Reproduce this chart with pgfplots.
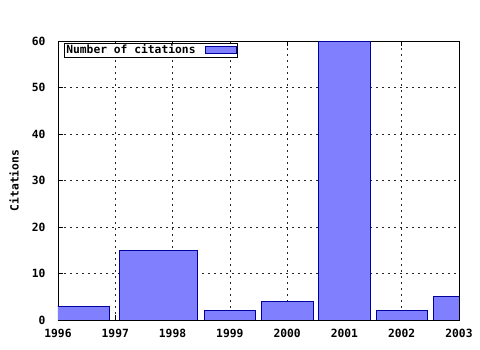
\documentclass[border=0pt]{standalone}
\usepackage{fontspec}
\setmainfont{DejaVu Sans Mono}
\usepackage{pgfplots}
\pgfplotsset{compat=1.18}
\definecolor{barfill}{HTML}{8080FF}
\definecolor{baredge}{HTML}{0000A0}
\newcommand{\gfont}{\fontsize{11.3}{13}\selectfont\bfseries}
\begin{document}
\begin{tikzpicture}[x=1pt,y=1pt]
\useasboundingbox (-58,-30) rectangle (422,320);
\begin{axis}[
  at={(0,0)}, anchor=south west,
  scale only axis, width=401pt, height=279pt,
  xmin=1996, xmax=2003, ymin=0, ymax=60,
  xtick={1996,1997,...,2003}, ytick={0,10,...,60},
  minor x tick num=3,
  xtick pos=both, ytick pos=left, tick align=inside,
  major tick length=5pt, minor tick length=3pt,
  grid=major,
  major grid style={black!85, line width=0.6pt, dash pattern=on 2pt off 4pt},
  axis line style={black, line width=0.8pt},
  every tick/.style={black, line width=0.6pt},
  ticklabel style={font=\gfont},
  xticklabel style={yshift=-6pt},
  yticklabel style={xshift=-9pt},
  /pgf/number format/assume math mode=true,
  /pgf/number format/1000 sep={},
  ylabel={Citations},
  ylabel style={font=\gfont, at={(axis description cs:-0.1097,0.5)}, anchor=center},
  legend plot pos=right,
  legend cell align=left,
  legend style={at={(axis description cs:0.015,0.993)}, anchor=north west,
    draw=black, line width=0.6pt, inner xsep=1pt, inner ysep=0.5pt, font=\gfont,
    row sep=0pt, nodes={inner sep=1pt},
    /tikz/every odd column/.append style={column sep=8pt},
    /tikz/every even column/.append style={column sep=3pt}},
]
\addplot[fill=barfill, draw=baredge, line width=0.8pt,
  legend image code/.code={\draw[fill=barfill, draw=baredge, line width=0.8pt] (0pt,-3.5pt) rectangle (31pt,3.5pt);}]
  coordinates {(1995.1,3) (1996.9,3)} \closedcycle;
\addlegendentry{Number of citations}
\addplot[forget plot, fill=barfill, draw=baredge, line width=0.8pt]
  coordinates {(1997.075,15) (1998.425,15)} \closedcycle;
\addplot[forget plot, fill=barfill, draw=baredge, line width=0.8pt]
  coordinates {(1998.55,2) (1999.45,2)} \closedcycle;
\addplot[forget plot, fill=barfill, draw=baredge, line width=0.8pt]
  coordinates {(1999.55,4) (2000.45,4)} \closedcycle;
\addplot[forget plot, fill=barfill, draw=baredge, line width=0.8pt]
  coordinates {(2000.55,60) (2001.45,60)} \closedcycle;
\addplot[forget plot, fill=barfill, draw=baredge, line width=0.8pt]
  coordinates {(2001.55,2) (2002.45,2)} \closedcycle;
\addplot[forget plot, fill=barfill, draw=baredge, line width=0.8pt]
  coordinates {(2002.55,5) (2003.45,5)} \closedcycle;
\end{axis}
\end{tikzpicture}
\end{document}
